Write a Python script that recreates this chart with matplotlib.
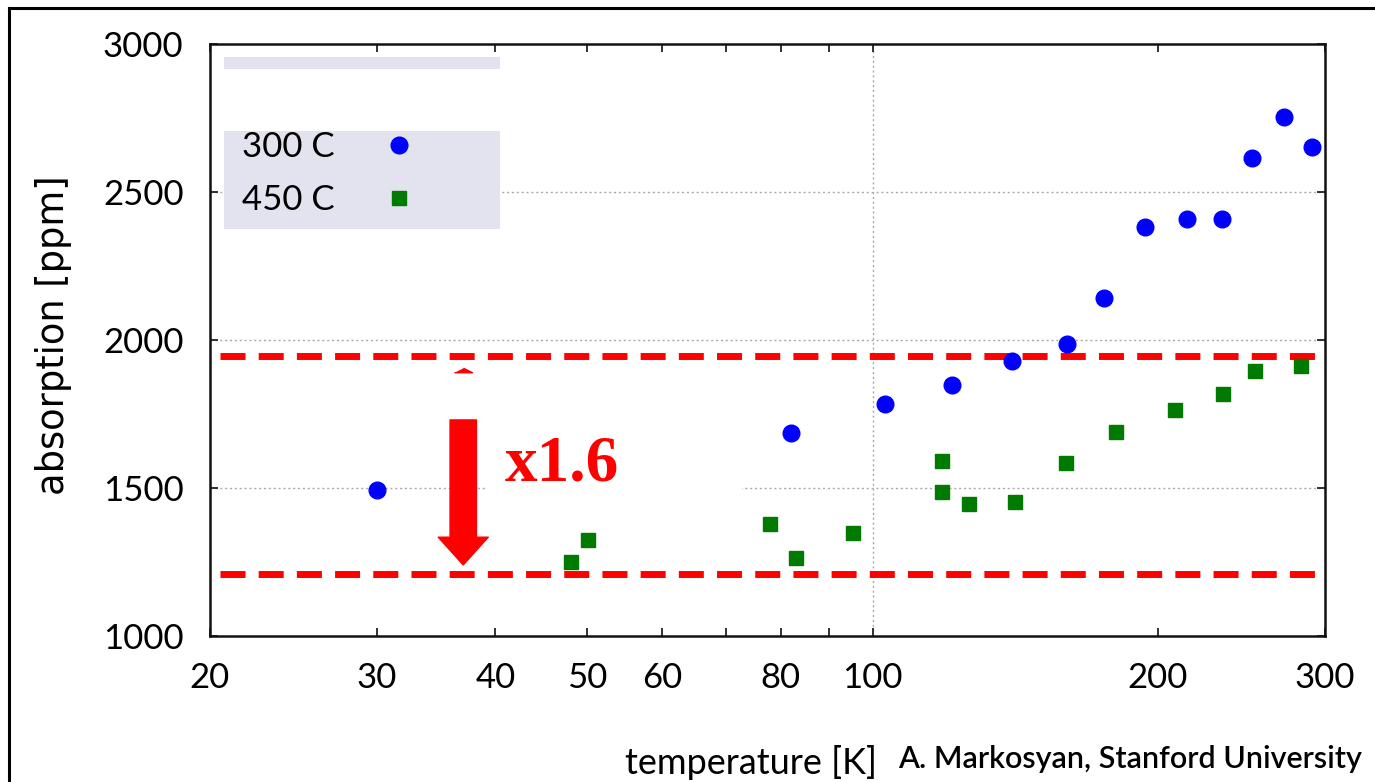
import matplotlib
matplotlib.use("Agg")
import matplotlib.pyplot as plt
from matplotlib.lines import Line2D
from matplotlib.patches import Rectangle
from matplotlib.ticker import FixedLocator, NullFormatter

# ---------------- data ----------------
t_300C = [30.0, 82.1, 103.0, 121.2, 140.4, 160.4, 175.6, 193.6, 214.4, 233.4, 251.2, 271.5, 290.8]
a_300C = [1493, 1686, 1784, 1848, 1929, 1986, 2142, 2382, 2409, 2409, 2615, 2753, 2652]

t_450C = [48.1, 50.1, 78.0, 83.1, 95.3, 118.3, 118.3, 126.4, 141.4, 160.1, 180.8, 208.2, 234.0, 253.0, 283.0]
a_450C = [1250, 1324, 1378, 1264, 1348, 1591, 1486, 1446, 1453, 1584, 1689, 1764, 1818, 1895, 1912]

series_labels = ["300 C", "450 C"]
ref_levels = [1946, 1209]          # dashed reference lines
ref_span = [20.5, 294.0]
arrow_x = 37.0
arrow_from, arrow_to = 1730, 1240
ratio_label = "x1.6"

x_ticks = [20, 30, 40, 50, 60, 80, 100, 200, 300]
x_minor = [70, 90]
y_ticks = [1000, 1500, 2000, 2500, 3000]

# ---------------- figure ----------------
fig = plt.figure(figsize=(13.75, 7.82), dpi=100)
ax = fig.add_axes([0.1527, 0.1867, 0.8109, 0.757])

ax.set_xscale("log")
ax.set_xlim(20, 300)
ax.set_ylim(1000, 3000)
ax.set_axisbelow(True)

tick_font = dict(family="Lato", size=25)
ax.xaxis.set_major_locator(FixedLocator(x_ticks))
ax.xaxis.set_minor_locator(FixedLocator(x_minor))
ax.xaxis.set_minor_formatter(NullFormatter())
ax.set_xticklabels([str(v) for v in x_ticks], fontdict=tick_font)
ax.set_yticks(y_ticks)
ax.set_yticklabels([str(v) for v in y_ticks], fontdict=tick_font)
ax.tick_params(axis="both", which="both", direction="in", top=True, right=True,
               length=6, width=1.3, color="#222222")
ax.tick_params(axis="x", which="major", pad=19)
ax.tick_params(axis="y", which="major", pad=19)

for s in ax.spines.values():
    s.set_linewidth(1.8)
    s.set_color("#111111")

# grid: y at 1500/2000/2500, x at 100
for yv in y_ticks[1:-1]:
    ax.axhline(yv, color="#aaaaaa", lw=1.0, ls=(0, (1.5, 2)), zorder=0.5)
ax.axvline(100, color="#aaaaaa", lw=1.0, ls=(0, (1.5, 2)), zorder=0.5)

# white box behind ratio label
ax.add_patch(Rectangle((0.2466, 0.23), 0.2304, 0.118, transform=ax.transAxes,
                       facecolor="white", edgecolor="none", zorder=1))

# dashed reference lines
for lv in ref_levels:
    ax.plot(ref_span, [lv, lv], color="#ff0000", lw=5, ls=(0, (3.6, 1.9)),
            solid_capstyle="butt", dash_capstyle="butt", zorder=2)

# data
l1, = ax.plot(t_300C, a_300C, ls="none", marker="o", ms=12, color="#0000ff",
              mec="#0000ff", zorder=3, label=series_labels[0])
l2, = ax.plot(t_450C, a_450C, ls="none", marker="s", ms=10, color="#007a00",
              mec="#007a00", zorder=3, label=series_labels[1])

# arrow
ax.annotate("", xy=(arrow_x, arrow_to), xytext=(arrow_x, arrow_from),
            arrowprops=dict(arrowstyle="simple,head_length=2.0,head_width=3.6,tail_width=1.9",
                            mutation_scale=10, color="#ff0000", shrinkA=0, shrinkB=0),
            zorder=4)
tri = [(-1, -0.25), (1, -0.25), (0, 0.25)]
ax.plot([arrow_x], [1898], ls="none", marker=tri, ms=13, color="#ff0000", mec="#ff0000", zorder=4)

ax.text(0.2646, 0.2635, ratio_label, transform=ax.transAxes, color="#ff0000",
        family="Liberation Serif", weight="bold", fontsize=47, ha="left", va="baseline", zorder=5)

# legend background
ax.add_patch(Rectangle((0.0126, 0.9578), 0.2475, 0.0203, transform=ax.transAxes,
                       facecolor="#e3e3ef", edgecolor="none", zorder=1))
ax.add_patch(Rectangle((0.0126, 0.6875), 0.2475, 0.1655, transform=ax.transAxes,
                       facecolor="#e3e3ef", edgecolor="none", zorder=1))
leg = ax.legend(handles=[l1, l2], loc="center left", bbox_to_anchor=(0.0135, 0.781),
                frameon=False, markerfirst=False, prop=dict(family="Lato", size=25),
                handlelength=1.4, handletextpad=1.15, labelspacing=0.62, borderpad=0)
leg.set_zorder(6)

# axis labels
ax.set_ylabel("absorption [ppm]", family="DejaVu Sans", fontsize=26.5)
ax.yaxis.set_label_coords(-0.124, 0.508)
ax.set_xlabel("temperature [K]", family="Lato", fontsize=26)
ax.xaxis.set_label_coords(0.485, -0.184)

fig.text(0.653, 0.029, "A. Markosyan, Stanford University", family="Lato",
         weight="semibold", fontsize=22, ha="left", va="center")

# outer border (top & left)
fig.add_artist(Line2D([0.0065, 1.0], [0.9898, 0.9898], transform=fig.transFigure,
                      color="black", lw=2.2))
fig.add_artist(Line2D([0.0065, 0.0065], [0.0, 0.9898], transform=fig.transFigure,
                      color="black", lw=2.2))

fig.savefig("out.png", dpi=100)
